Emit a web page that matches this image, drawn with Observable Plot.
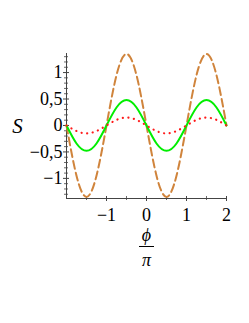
<!DOCTYPE html>
<html>
<head>
<meta charset="utf-8">
<script src="https://cdn.jsdelivr.net/npm/d3@7"></script>
<script src="https://cdn.jsdelivr.net/npm/@observablehq/plot@0.6"></script>
<style>
  html, body { margin: 0; padding: 0; background: #fff; }
  svg text { font-family: "Liberation Serif", "DejaVu Serif", serif !important; }
</style>
</head>
<body>
<div id="chart"></div>
<script>
// phi/pi sample positions
const phi = [-2, -1.75, -1.5, -1.25, -1, -0.75, -0.5, -0.25, 0, 0.25, 0.5, 0.75, 1, 1.25, 1.5, 1.75, 2];
const brownS = [0, -0.95, -1.35, -0.95, 0, 0.95, 1.35, 0.95, 0, -0.95, -1.35, -0.95, 0, 0.95, 1.35, 0.95, 0];
const greenS = [0, -0.34, -0.48, -0.34, 0, 0.34, 0.48, 0.34, 0, -0.34, -0.48, -0.34, 0, 0.34, 0.48, 0.34, 0];
const redS   = [0, -0.105, -0.15, -0.105, 0, 0.105, 0.15, 0.105, 0, -0.105, -0.15, -0.105, 0, 0.105, 0.15, 0.105, 0];

const yTicks = [-1, -0.5, 0, 0.5, 1];
const yTickLabels = ["−1", "−0,5", "0", "0,5", "1"];
const yMinor = [-1.3, -1.2, -1.1, -0.9, -0.8, -0.7, -0.6, -0.4, -0.3, -0.2, -0.1, 0.1, 0.2, 0.3, 0.4, 0.6, 0.7, 0.8, 0.9, 1.1, 1.2, 1.3];
const xTicks = [-1, 0, 1, 2];
const xTickLabels = ["−1", "0", "1", "2"];
const xMinor = [-1.5, -0.5, 0.5, 1.5];
const xDomain = [-2, 2];
const yDomain = [-1.38, 1.36];

const rows = (ys, k) => phi.map((p, i) => ({phi: p, s: ys[i], k}));
const brown = rows(brownS, "brown");
const green = rows(greenS, "green");
const red = rows(redS, "red");

const hline = {draw(ctx, size) { const r = Math.sqrt(size / Math.PI); ctx.moveTo(-r, 0); ctx.lineTo(r, 0); }};

const W = 249, H = 323;
const mL = 66, mR = 23, mT = 53, mB = 125;
const fw = W - mL - mR, fh = H - mT - mB;
const axisColor = "#444";
const serif = "Liberation Serif";

const chart = Plot.plot({
  width: W,
  height: H,
  marginLeft: mL,
  marginRight: mR,
  marginTop: mT,
  marginBottom: mB,
  style: {fontFamily: serif, background: "white", overflow: "visible"},
  x: {domain: xDomain, axis: null},
  y: {domain: yDomain, axis: null},
  marks: [
    // axis lines
    Plot.ruleX([xDomain[0]], {stroke: axisColor, strokeWidth: 1}),
    Plot.ruleY([yDomain[0]], {stroke: axisColor, strokeWidth: 1}),
    // y ticks
    Plot.tickY(yTicks, {stroke: axisColor, insetLeft: -3, insetRight: fw - 3}),
    Plot.tickY(yMinor, {stroke: axisColor, strokeWidth: 0.8, insetLeft: -2, insetRight: fw - 2}),
    // x ticks
    Plot.tickX(xTicks, {stroke: axisColor, insetTop: fh - 2, insetBottom: -3}),
    Plot.tickX(xMinor, {stroke: axisColor, strokeWidth: 0.8, insetTop: fh - 2, insetBottom: -2}),
    // tick labels
    Plot.text(yTicks, {y: (d) => d, frameAnchor: "left", dx: -4, textAnchor: "end", lineAnchor: "middle", text: (d, i) => yTickLabels[i], fontSize: 18, fontFamily: serif, fill: "black"}),
    Plot.text(xTicks, {x: (d) => d, frameAnchor: "bottom", dy: 17, textAnchor: "middle", lineAnchor: "middle", text: (d, i) => xTickLabels[i], fontSize: 18, fontFamily: serif, fill: "black"}),
    // curves
    Plot.line(brown, {x: "phi", y: "s", stroke: "#d0843c", strokeWidth: 2, strokeDasharray: "8,4", curve: "natural"}),
    Plot.line(green, {x: "phi", y: "s", stroke: "#00ee00", strokeWidth: 2, curve: "natural"}),
    Plot.line(red, {x: "phi", y: "s", stroke: "#ff1a1a", strokeWidth: 2.2, strokeDasharray: "0.1,5.5", strokeLinecap: "round", curve: "natural"}),
    // axis titles
    Plot.text(["S"], {frameAnchor: "left", dx: -49, textAnchor: "middle", lineAnchor: "middle", text: (d) => d, fontSize: 21, fontFamily: serif, fontStyle: "italic", fill: "black"}),
    Plot.text(["ϕ"], {frameAnchor: "bottom", dy: 37, textAnchor: "middle", lineAnchor: "middle", text: (d) => d, fontSize: 18, fontFamily: serif, fontStyle: "italic", fill: "black"}),
    Plot.dot([0], {frameAnchor: "bottom", dy: 48, symbol: hline, r: 7.5, stroke: "black", strokeWidth: 1}),
    Plot.text(["π"], {frameAnchor: "bottom", dy: 62, textAnchor: "middle", lineAnchor: "middle", text: (d) => d, fontSize: 18, fontFamily: serif, fontStyle: "italic", fill: "black"})
  ]
});
document.getElementById("chart").appendChild(chart);
</script>
</body>
</html>
